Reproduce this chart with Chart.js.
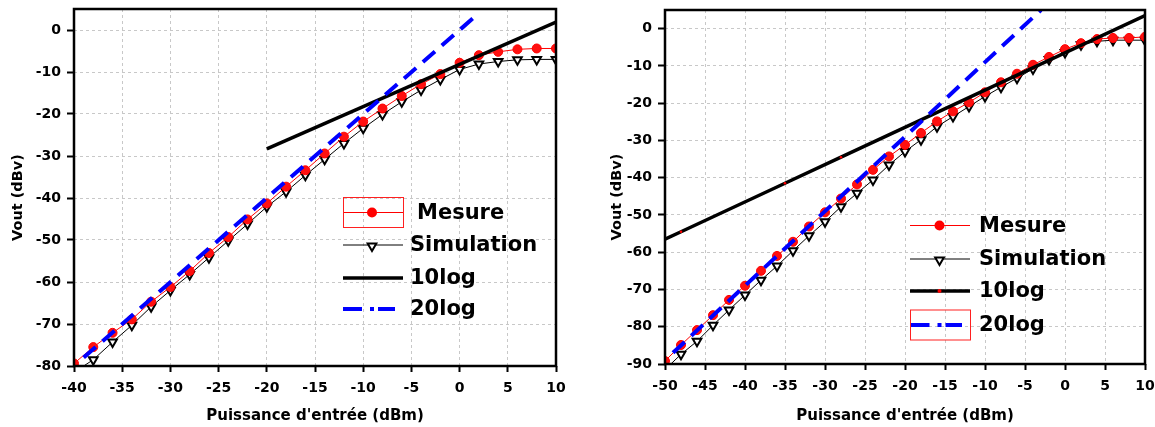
<!DOCTYPE html>
<html>
<head>
<meta charset="utf-8">
<script src="https://cdn.jsdelivr.net/npm/chart.js@4.4.0/dist/chart.umd.min.js"></script>
<style>
body { margin:0; background:#fff; width:1155px; height:427px; overflow:hidden; position:relative; }
canvas { position:absolute; top:0; }
#grafico1 { left:0; }
#grafico2 { left:591px; }
</style>
</head>
<body>
<canvas id="grafico1" width="578" height="427"></canvas>
<canvas id="grafico2" width="564" height="427"></canvas>
<script>
// ---- datos grafico izquierdo ----
const puissance1 = [-40,-38,-36,-34,-32,-30,-28,-26,-24,-22,-20,-18,-16,-14,-12,-10,-8,-6,-4,-2,0,2,4,6,8,10];
const mesure1 = [-79.4,-75.5,-72.1,-68.9,-64.7,-61.2,-57.4,-53.1,-49.3,-45.1,-41.3,-37.3,-33.4,-29.4,-25.4,-21.8,-18.7,-15.7,-12.9,-10.5,-7.8,-6.0,-5.2,-4.6,-4.4,-4.4];
const simulation1 = [-81.5,-78.5,-74.3,-70.3,-65.9,-62.0,-58.2,-54.2,-50.2,-46.2,-42.1,-38.5,-34.6,-30.8,-27.0,-23.4,-20.1,-17.1,-14.3,-11.8,-9.4,-8.1,-7.5,-7.1,-7.0,-7.0];
const log10x1 = [-20, 10];
const log10y1 = [-28.3, 1.9];
const log20x1 = [-39, 2];
const log20y1 = [-78, 4];
const xTicks1 = [-40,-35,-30,-25,-20,-15,-10,-5,0,5,10];
const yTicks1 = [-80,-70,-60,-50,-40,-30,-20,-10,0];

// ---- datos grafico derecho ----
const puissance2 = [-50,-48,-46,-44,-42,-40,-38,-36,-34,-32,-30,-28,-26,-24,-22,-20,-18,-16,-14,-12,-10,-8,-6,-4,-2,0,2,4,6,8,10];
const mesure2 = [-89.2,-84.9,-80.9,-76.9,-72.8,-69.0,-65.0,-61.0,-57.2,-53.1,-49.3,-45.6,-41.8,-37.9,-34.3,-31.2,-28.0,-24.9,-22.2,-19.8,-17.1,-14.4,-12.1,-9.7,-7.6,-5.5,-3.9,-2.8,-2.5,-2.5,-2.2];
const simulation2 = [-91.5,-87.4,-83.9,-79.6,-75.5,-71.5,-67.5,-63.7,-59.6,-55.6,-51.8,-47.8,-44.2,-40.6,-36.6,-33.0,-29.8,-26.3,-23.6,-20.9,-18.2,-15.7,-13.3,-10.8,-8.3,-6.4,-4.3,-3.4,-3.1,-3.1,-3.1];
const log10x2 = [-50, -48, -35, -28, 10];
const log10y2 = [-56.5, -54.5, -41.5, -34.5, 3.5];
const log20x2 = [-49, -3];
const log20y2 = [-87, 5];
const xTicks2 = [-50,-45,-40,-35,-30,-25,-20,-15,-10,-5,0,5,10];
const yTicks2 = [-90,-80,-70,-60,-50,-40,-30,-20,-10,0];

const nombres = ['Mesure', 'Simulation', '10log', '20log'];
const tituloX = "Puissance d'entrée (dBm)";
const tituloY = 'Vout (dBv)';

Chart.defaults.font.family = "'DejaVu Sans', sans-serif";
Chart.defaults.font.weight = 'bold';
Chart.defaults.color = '#000';

function puntos(xs, ys) {
    return xs.map((x, i) => ({ x: x, y: ys[i] }));
}

function triangulo(ctx, cx, cy, r) {
    ctx.beginPath();
    ctx.moveTo(cx, cy + r);
    ctx.lineTo(cx - r * 0.866, cy - r * 0.5);
    ctx.lineTo(cx + r * 0.866, cy - r * 0.5);
    ctx.closePath();
    ctx.fillStyle = '#fff';
    ctx.fill();
    ctx.lineWidth = 2;
    ctx.strokeStyle = '#000';
    ctx.stroke();
}

// marco negro + leyenda dibujada a mano
const marco = {
    id: 'marco',
    afterDraw(chart, args, opts) {
        const ctx = chart.ctx;
        const a = chart.chartArea;
        ctx.save();
        ctx.strokeStyle = '#000';
        ctx.lineWidth = 2.5;
        ctx.strokeRect(a.left, a.top, a.right - a.left, a.bottom - a.top);

        const l = opts.leyenda;
        const filas = l.filas;
        // Mesure
        ctx.lineWidth = 1;
        ctx.strokeStyle = '#ff0000';
        ctx.beginPath();
        ctx.moveTo(l.x1, filas[0]); ctx.lineTo(l.x2, filas[0]);
        ctx.stroke();
        ctx.fillStyle = '#ff0000';
        ctx.beginPath();
        ctx.arc(l.cx, filas[0], 5, 0, Math.PI * 2);
        ctx.fill();
        // Simulation
        ctx.strokeStyle = '#000';
        ctx.beginPath();
        ctx.moveTo(l.x1, filas[1]); ctx.lineTo(l.x2, filas[1]);
        ctx.stroke();
        triangulo(ctx, l.cx, filas[1] + 1, 5);
        // 10log
        ctx.lineWidth = 3.5;
        ctx.strokeStyle = '#000';
        ctx.beginPath();
        ctx.moveTo(l.x1, filas[2]); ctx.lineTo(l.x2, filas[2]);
        ctx.stroke();
        if (l.puntoRojo) {
            ctx.fillStyle = '#ff0000';
            ctx.beginPath();
            ctx.arc(l.cx, filas[2], 2, 0, Math.PI * 2);
            ctx.fill();
        }
        // 20log  (raya - punto - raya)
        ctx.strokeStyle = '#0000ff';
        ctx.lineWidth = 4;
        ctx.beginPath();
        ctx.moveTo(l.x1, filas[3]); ctx.lineTo(l.cx - 10, filas[3]);
        ctx.moveTo(l.cx - 2, filas[3]); ctx.lineTo(l.cx + 2, filas[3]);
        ctx.moveTo(l.cx + 6, filas[3]); ctx.lineTo(l.x2 - 8, filas[3]);
        ctx.stroke();

        // caja roja
        const c = l.caja;
        ctx.lineWidth = 1;
        ctx.strokeStyle = '#ff2020';
        ctx.strokeRect(l.x1 + 0.5, filas[c] - 15, l.x2 - l.x1, 30);

        ctx.fillStyle = '#000';
        ctx.font = "bold 21px 'DejaVu Sans'";
        ctx.textBaseline = 'middle';
        ctx.textAlign = 'left';
        for (let i = 0; i < nombres.length; i++) {
            ctx.fillText(nombres[i], l.textX + (l.sangria[i] || 0), filas[i] + 1);
        }
        ctx.restore();
    }
};

function crearGrafico(id, cfg) {
    const ctx = document.querySelector(id).getContext('2d');
    return new Chart(ctx, {
        type: 'scatter',
        data: {
            datasets: [
                {
                    label: nombres[0],
                    data: puntos(cfg.px, cfg.mesure),
                    showLine: true,
                    borderColor: '#ff0000',
                    borderWidth: 1,
                    pointRadius: 4.5,
                    pointBackgroundColor: '#ff1010',
                    pointBorderColor: '#ff0000',
                    pointBorderWidth: 1,
                    order: 2
                },
                {
                    label: nombres[1],
                    data: puntos(cfg.px, cfg.simulation),
                    showLine: true,
                    borderColor: '#000',
                    borderWidth: 1,
                    pointStyle: 'triangle',
                    rotation: 180,
                    pointRadius: 5,
                    pointBackgroundColor: '#fff',
                    pointBorderColor: '#000',
                    pointBorderWidth: 2,
                    order: 3
                },
                {
                    label: nombres[2],
                    data: puntos(cfg.l10x, cfg.l10y),
                    showLine: true,
                    borderColor: '#000',
                    borderWidth: 3.5,
                    pointRadius: cfg.l10x.map((v, i) => (i === 0 || i === cfg.l10x.length - 1) ? 0 : cfg.radioRojo),
                    pointBackgroundColor: '#ff0000',
                    pointBorderWidth: 0,
                    order: 1
                },
                {
                    label: nombres[3],
                    data: puntos(cfg.l20x, cfg.l20y),
                    showLine: true,
                    borderColor: '#0000ff',
                    borderWidth: 4,
                    borderDash: [16, 9],
                    pointRadius: 0,
                    order: 0
                }
            ]
        },
        options: {
            responsive: false,
            animation: false,
            events: [],
            layout: { padding: cfg.padding },
            plugins: {
                legend: { display: false },
                tooltip: { enabled: false },
                marco: { leyenda: cfg.leyenda }
            },
            scales: {
                x: {
                    type: 'linear',
                    min: cfg.xTicks[0],
                    max: cfg.xTicks[cfg.xTicks.length - 1],
                    afterBuildTicks: s => { s.ticks = cfg.xTicks.map(v => ({ value: v })); },
                    afterFit: s => { s.height = cfg.altoX; s.paddingLeft = 0; s.paddingRight = 0; },
                    ticks: { font: { size: 14, weight: 'bold' }, color: '#000', padding: 8 },
                    grid: { color: '#c8c8c8', lineWidth: 1, tickColor: '#000', tickWidth: 2, tickLength: 6, tickBorderDash: [1, 0] },
                    border: { display: false, dash: [3, 3] },
                    title: { display: true, text: tituloX, color: '#000', font: { size: 15, weight: 'bold' }, padding: { top: 0, bottom: 2 } }
                },
                y: {
                    type: 'linear',
                    min: cfg.yTicks[0],
                    max: 5,
                    afterBuildTicks: s => { s.ticks = cfg.yTicks.map(v => ({ value: v })); },
                    afterFit: s => { s.width = 74; s.paddingTop = 0; s.paddingBottom = 0; },
                    ticks: { font: { size: 14, weight: 'bold' }, color: '#000', padding: 6 },
                    grid: { color: '#c8c8c8', lineWidth: 1, tickColor: '#000', tickWidth: 2, tickLength: 7, tickBorderDash: [1, 0] },
                    border: { display: false, dash: [3, 3] },
                    title: { display: true, text: tituloY + '    ', color: '#000', font: { size: 14.5, weight: 'bold' }, padding: { top: cfg.padTituloY, bottom: 0 } }
                }
            }
        },
        plugins: [marco]
    });
}

crearGrafico('#grafico1', {
    px: puissance1, mesure: mesure1, simulation: simulation1,
    l10x: log10x1, l10y: log10y1, l20x: log20x1, l20y: log20y1,
    xTicks: xTicks1, yTicks: yTicks1, radioRojo: 0,
    padding: { left: 0, right: 22, top: 9, bottom: 0 },
    altoX: 61, padTituloY: 10,
    leyenda: { x1: 343, x2: 403, cx: 372, textX: 410, filas: [212.5, 245, 278, 309], caja: 0, sangria: [7, 0, 0, 0], puntoRojo: false }
});

crearGrafico('#grafico2', {
    px: puissance2, mesure: mesure2, simulation: simulation2,
    l10x: log10x2, l10y: log10y2, l20x: log20x2, l20y: log20y2,
    xTicks: xTicks2, yTicks: yTicks2, radioRojo: 1.3,
    padding: { left: 0, right: 10, top: 10, bottom: 0 },
    altoX: 63, padTituloY: 18,
    leyenda: { x1: 319, x2: 379, cx: 348.5, textX: 388, filas: [225.5, 259, 291, 325], caja: 3, sangria: [0, 0, 0, 0], puntoRojo: true }
});
</script>
</body>
</html>
